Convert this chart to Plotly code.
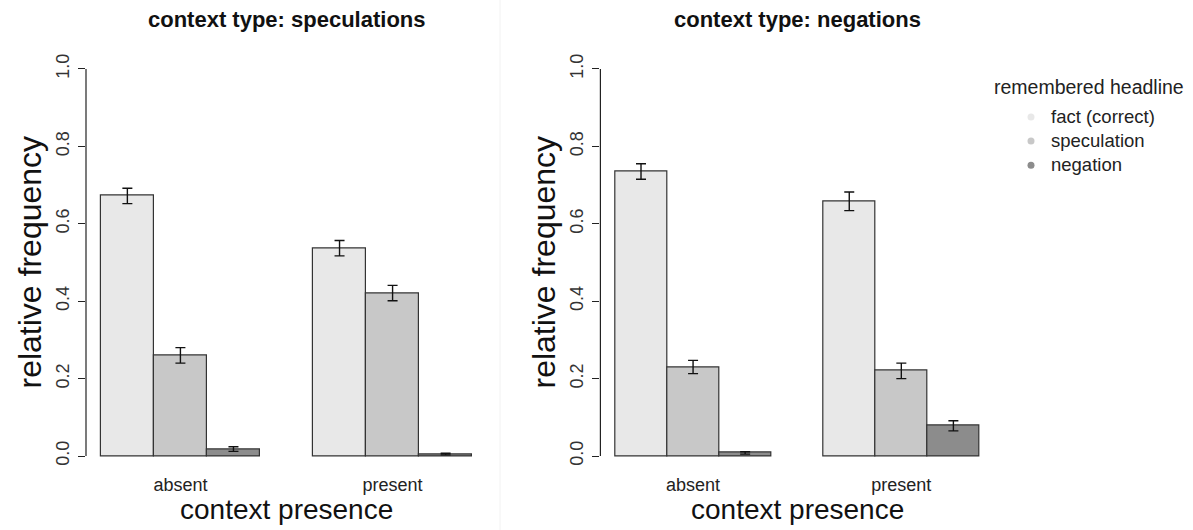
import numpy as np
import plotly.graph_objects as go

W, H = 1193, 530

# ---- data ----
panels = ["context type: speculations", "context type: negations"]
groups = ["absent", "present"]
series = ["fact (correct)", "speculation", "negation"]
colors = ["#E8E8E8", "#C8C8C8", "#8C8C8C"]

# per panel, per series -> [absent, present]
spec_fact = [0.672, 0.537]
spec_spec = [0.260, 0.421]
spec_neg = [0.018, 0.005]
spec_fact_err = [0.020, 0.020]
spec_spec_err = [0.020, 0.020]
spec_neg_err = [0.006, 0.002]

neg_fact = [0.735, 0.658]
neg_spec = [0.230, 0.220]
neg_neg = [0.008, 0.078]
neg_fact_err = [0.020, 0.024]
neg_spec_err = [0.017, 0.020]
neg_neg_err = [0.003, 0.013]

panel_vals = [[spec_fact, spec_spec, spec_neg], [neg_fact, neg_spec, neg_neg]]
panel_errs = [[spec_fact_err, spec_spec_err, spec_neg_err],
              [neg_fact_err, neg_spec_err, neg_neg_err]]
y_ticks = [0.0, 0.2, 0.4, 0.6, 0.8, 1.0]
y_ticklabels = ["0.0", "0.2", "0.4", "0.6", "0.8", "1.0"]

FONT = "Liberation Sans, Arial, sans-serif"

fig = go.Figure()

x_domains = [[86 / W, 487 / W], [600.4 / W, 994 / W]]
y_domain = [1 - 471.5 / H, 1 - 53.5 / H]

n_s = len(series)
for p in range(2):
    xa = "x" if p == 0 else "x2"
    ya = "y" if p == 0 else "y2"
    for j in range(n_s):
        xs = [1.5 + j + (n_s + 1) * g for g in range(len(groups))]
        fig.add_trace(go.Bar(
            x=xs, y=panel_vals[p][j], width=1.0,
            marker=dict(color=colors[j], line=dict(color="#333333", width=1.2)),
            error_y=dict(type="data", array=panel_errs[p][j], visible=True,
                         color="#111111", thickness=1.4, width=5),
            xaxis=xa, yaxis=ya, showlegend=False, hoverinfo="skip",
        ))

# legend entries (dots)
for j in range(n_s):
    fig.add_trace(go.Scatter(
        x=[None], y=[None], mode="markers",
        name='<span style="font-size:18.5px">' + series[j] + "</span>",
        marker=dict(color=colors[j], size=7),
        xaxis="x2", yaxis="y2", showlegend=True,
    ))

group_centers = [2.5 + (n_s + 1) * g for g in range(len(groups))]

axis_common_x = dict(
    range=[0.72, 8.28], tickvals=group_centers, ticktext=groups,
    showgrid=False, zeroline=False, showline=False, ticks="",
    tickfont=dict(size=18, color="#222222", family=FONT),
    ticklabelstandoff=0, fixedrange=True,
)
axis_common_y = dict(
    range=[-0.04, 1.04], domain=y_domain, tickvals=y_ticks, ticktext=y_ticklabels,
    showgrid=False, zeroline=False, showline=False, ticks="outside", ticklen=7,
    tickcolor="#222222", tickwidth=1, tickangle=-90,
    tickfont=dict(size=18, color="#333333", family=FONT),
    ticklabelstandoff=2, fixedrange=True,
)

fig.update_layout(
    width=W, height=H,
    margin=dict(l=0, r=0, t=0, b=0),
    paper_bgcolor="white", plot_bgcolor="white",
    font=dict(family=FONT, color="#222222"),
    bargap=0, barmode="group",
    xaxis=dict(domain=x_domains[0], anchor="y", **axis_common_x),
    xaxis2=dict(domain=x_domains[1], anchor="y2", **axis_common_x),
    yaxis=dict(anchor="x", **axis_common_y),
    yaxis2=dict(anchor="x2", **axis_common_y),
    legend=dict(
        x=1011 / W, y=1 - 100 / H, xanchor="left", yanchor="top",
        font=dict(size=16.2, family=FONT, color="#222222"),
        bgcolor="rgba(0,0,0,0)", itemclick=False, itemdoubleclick=False,
    ),
    showlegend=True,
)

# y axis lines spanning 0..1 (R style)
for xr, yr in [("x domain", "y"), ("x2 domain", "y2")]:
    fig.add_shape(type="line", xref=xr, yref=yr, x0=0, x1=0, y0=0, y1=1,
                  line=dict(color="#222222", width=1.2))

# faint separator line between the two panels
fig.add_shape(type="line", xref="paper", yref="paper", x0=500 / W, x1=500 / W,
              y0=0, y1=1, line=dict(color="#F2F2F2", width=1))

annotations = []
for p in range(2):
    cx = (x_domains[p][0] + x_domains[p][1]) / 2
    annotations.append(dict(text="<b>" + panels[p] + "</b>", x=cx, y=1 - 20 / H,
                            xref="paper", yref="paper", showarrow=False,
                            font=dict(size=22, family=FONT, color="#111111"),
                            xanchor="center", yanchor="middle"))
    annotations.append(dict(text="context presence", x=cx, y=1 - 509 / H,
                            xref="paper", yref="paper", showarrow=False,
                            font=dict(size=28, family=FONT, color="#111111"),
                            xanchor="center", yanchor="middle"))
    yx = 30 if p == 0 else 544
    annotations.append(dict(text="relative frequency", x=yx / W,
                            y=(y_domain[0] + y_domain[1]) / 2,
                            xref="paper", yref="paper", showarrow=False,
                            textangle=-90,
                            font=dict(size=32, family=FONT, color="#111111"),
                            xanchor="center", yanchor="middle"))
annotations.append(dict(text="remembered headline", x=1089 / W, y=1 - 87 / H,
                        xref="paper", yref="paper", showarrow=False,
                        font=dict(size=19.5, family=FONT, color="#222222"),
                        xanchor="center", yanchor="middle"))
fig.update_layout(annotations=annotations)

fig.write_html("out.html")
